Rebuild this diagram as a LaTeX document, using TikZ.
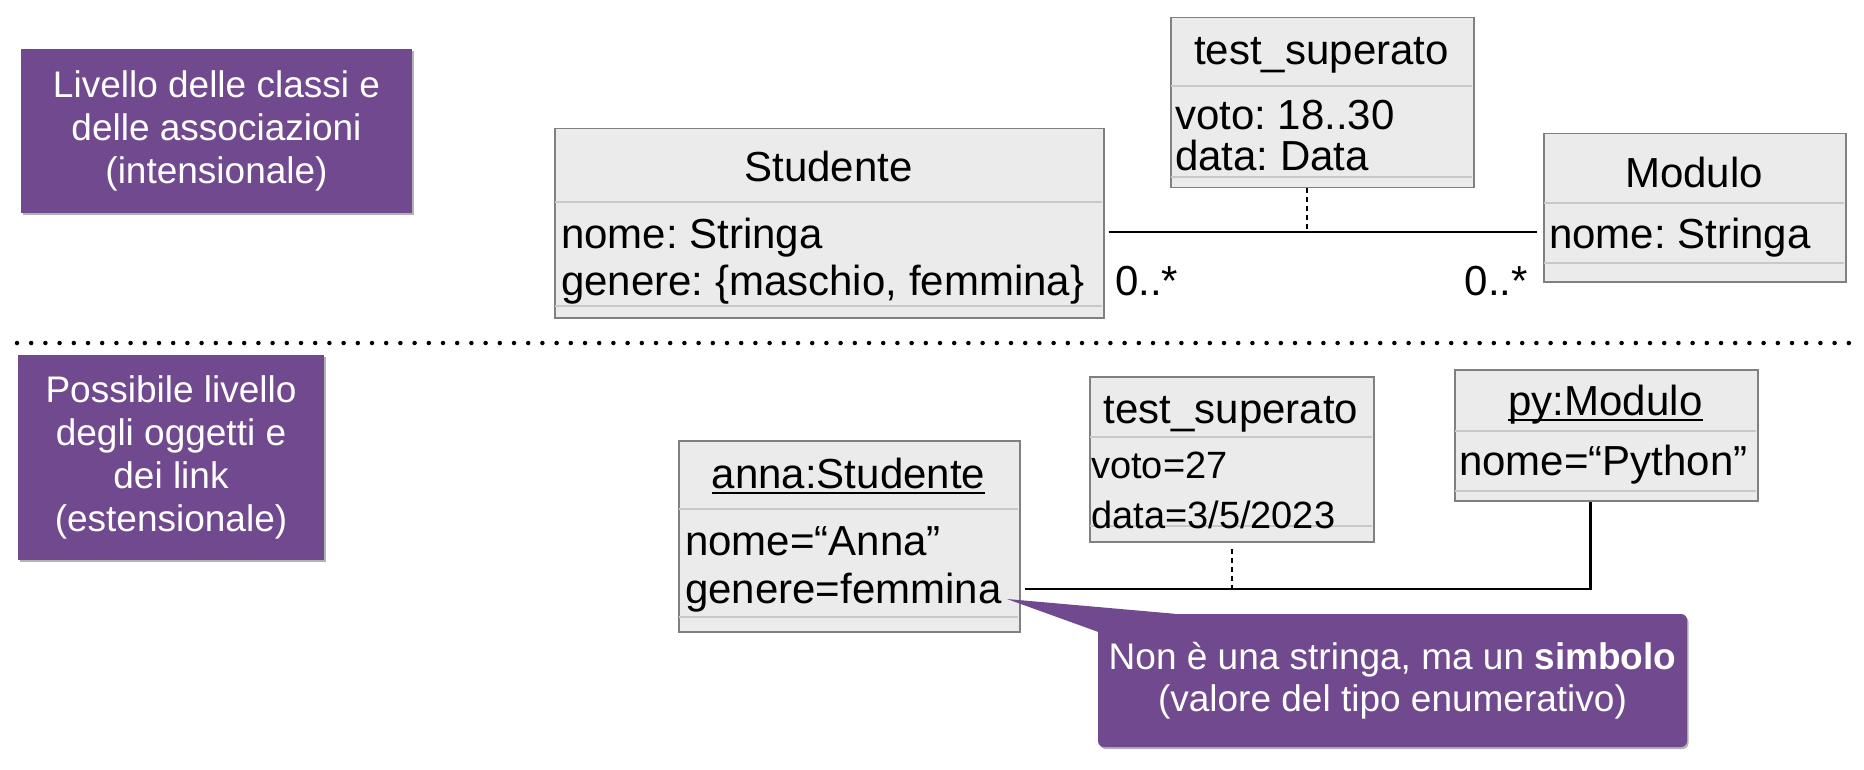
\documentclass[tikz,border=0pt]{standalone}
\usepackage{fontspec}
\setmainfont{Liberation Sans}
\usetikzlibrary{shadows}
\definecolor{purp}{RGB}{112,73,142}
\definecolor{umlfill}{RGB}{235,235,235}
\definecolor{umlborder}{RGB}{128,128,128}
\definecolor{umlsep}{RGB}{200,200,200}
\frenchspacing
\begin{document}
\begin{tikzpicture}[x=1pt,y=-1pt,
  purpbox/.style={fill=purp, text=white, align=center, inner sep=0pt,
    font=\fontsize{37}{43}\selectfont,
    drop shadow={shadow xshift=1.5pt, shadow yshift=-2pt, opacity=0.3, fill=black}},
  notebox/.style={purpbox, rounded corners=6pt, font=\fontsize{37}{42}\selectfont},
  umlbox/.style={draw=umlborder, fill=umlfill, line width=1.5pt, inner sep=0pt, anchor=north west},
  sepline/.style={draw=umlsep, line width=1.5pt},
  umltext/.style={inner sep=0pt, font=\fontsize{42}{47}\selectfont},
  smalltext/.style={inner sep=0pt, font=\fontsize{38}{44}\selectfont},
  uline/.style={line width=1.5pt},
  assoc/.style={line width=2.8pt},
  dashlink/.style={line width=2pt, dash pattern=on 5pt off 4pt},
  dotsep/.style={line width=4.5pt, line cap=round, dash pattern=on 0pt off 14.2pt}
]
\useasboundingbox (0,0) rectangle (1864,770);

% level labels
\node[purpbox, minimum width=391, minimum height=164] (lev1) at (216.5,131)
  {Livello delle classi e\\delle associazioni\\(intensionale)};
\node[purpbox, minimum width=306, minimum height=205] (lev2) at (171,457.5)
  {Possibile livello\\degli oggetti e\\dei link\\(estensionale)};

% dotted separator
\coordinate (dl) at (17,343);
\coordinate (dr) at (1850,343);
\draw[dotsep] (dl) -- (dr);

% ---- class level ----
\node[umlbox, minimum width=549, minimum height=189] (stud) at (554,128) {};
\draw[sepline] (555,202) -- (1102,202);
\draw[sepline] (555,306) -- (1102,306);
\node[umltext, anchor=base] (studT) at (828.5,182) {Studente};
\node[umltext, anchor=base west] (studA1) at (561,248) {nome: Stringa};
\node[umltext, anchor=base west] (studA2) at (561,295) {genere: \{maschio, femmina\}};

\node[umlbox, minimum width=303, minimum height=170] (tsu) at (1170,17) {};
\draw[sepline] (1171,86) -- (1472,86);
\draw[sepline] (1171,177) -- (1472,177);
\node[umltext, anchor=base] (tsuT) at (1321.5,65) {test\_superato};
\node[umltext, anchor=base west] (tsuA1) at (1175,130) {voto: 18..30};
\node[umltext, anchor=base west] (tsuA2) at (1175,171) {data: Data};

\node[umlbox, minimum width=302, minimum height=148] (mod) at (1543,133) {};
\draw[sepline] (1544,203) -- (1844,203);
\draw[sepline] (1544,263) -- (1844,263);
\node[umltext, anchor=base] (modT) at (1694,188) {Modulo};
\node[umltext, anchor=base west] (modA1) at (1549,248) {nome: Stringa};

\coordinate (ay) at (0,232);
\draw[assoc] ([xshift=4pt]stud.east |- ay) -- ([xshift=-6pt]mod.west |- ay);
\draw[dashlink] ([xshift=-15.5pt]tsu.south) -- ([xshift=-15.5pt]tsu.south |- ay);
\node[umltext, anchor=base west] (m1) at (1115,295) {0..*};
\node[umltext, anchor=base east] (m2) at (1528,295) {0..*};

% ---- object level ----
\node[umlbox, minimum width=341, minimum height=191] (anna) at (678,440) {};
\draw[sepline] (679,509) -- (1018,509);
\draw[sepline] (679,617) -- (1018,617);
\node[umltext, anchor=base] (annaT) at (848.5,488) {anna:Studente};
\draw[uline] ([yshift=-5pt]annaT.base west) -- ([yshift=-5pt]annaT.base east);
\node[umltext, anchor=base west] (annaA1) at (685,555) {nome=“Anna”};
\node[umltext, anchor=base west] (annaA2) at (685,603) {genere=femmina};

\node[umlbox, minimum width=284, minimum height=165] (tsb) at (1089,376) {};
\draw[sepline] (1090,437) -- (1372,437);
\draw[sepline] (1090,526) -- (1372,526);
\node[umltext, anchor=base] (tsbT) at (1231,423) {test\_superato};
\node[smalltext, anchor=base west] (tsbA1) at (1091,478) {voto=27};
\node[smalltext, anchor=base west] (tsbA2) at (1091,528) {data=3/5/2023};

\node[umlbox, minimum width=303, minimum height=131] (pym) at (1454,369) {};
\draw[sepline] (1455,431) -- (1756,431);
\draw[sepline] (1455,491) -- (1756,491);
\node[umltext, anchor=base] (pymT) at (1605.5,415) {py:Modulo};
\draw[uline] ([yshift=-5pt]pymT.base west) -- ([yshift=-5pt]pymT.base east);
\node[umltext, anchor=base west] (pymA1) at (1459,475) {nome=“Python”};

\coordinate (ly) at (0,589);
\draw[assoc] ([xshift=4pt]anna.east |- ly) -| ([xshift=-15.5pt]pym.south);
\draw[dashlink] ([yshift=-6pt]tsb.south) -- (tsb.south |- ly);

% ---- callout ----
\node[notebox, minimum width=589, minimum height=133] (note) at (1392.5,680.5)
  {Non è una stringa, ma un \textbf{simbolo}\\(valore del tipo enumerativo)};
\coordinate (tip) at (1007,599);
\fill[purp] (tip) -- ([xshift=77pt]note.north west) -- ([yshift=-18pt]note.north west) -- cycle;
\end{tikzpicture}
\end{document}
